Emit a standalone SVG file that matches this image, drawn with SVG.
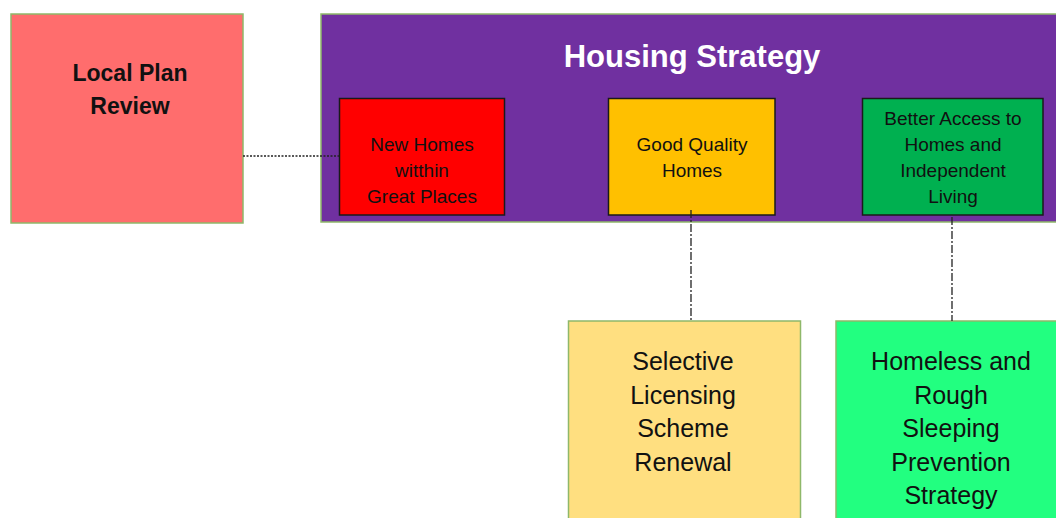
<svg xmlns="http://www.w3.org/2000/svg" width="1056" height="518" viewBox="0 0 1056 518">
<style>
text{font-family:"Liberation Sans",Arial,sans-serif;text-anchor:middle;fill:#111}
.outer{stroke:#8FB86A;stroke-width:1.5}
.inner{stroke:#1a1a1a;stroke-width:1.5}
.s{font-size:19px}
.l{font-size:25px}
.conn{fill:none;stroke:#222;stroke-width:1.3}
</style>
<rect width="1056" height="518" fill="#fff"/>
<g id="local-plan">
<rect class="outer" x="11" y="14" width="232" height="209" fill="#FF6D6D"/>
<text x="130" y="81" font-size="23" font-weight="bold">Local Plan</text>
<text x="130" y="114" font-size="23" font-weight="bold">Review</text>
</g>
<g id="housing-strategy">
<rect class="outer" x="321" y="14" width="740" height="208" fill="#7030A0"/>
<text x="692" y="67" font-size="31" font-weight="bold" style="fill:#fff">Housing Strategy</text>
</g>
<g id="new-homes">
<rect class="inner" x="339.5" y="98.5" width="165" height="116.5" fill="#FF0000"/>
<text class="s" x="422" y="151">New Homes</text>
<text class="s" x="422" y="177">witthin</text>
<text class="s" x="422" y="203">Great Places</text>
</g>
<g id="good-quality">
<rect class="inner" x="608.5" y="98.5" width="166.5" height="116.5" fill="#FFC000"/>
<text class="s" x="692" y="151">Good Quality</text>
<text class="s" x="692" y="177">Homes</text>
</g>
<g id="better-access">
<rect class="inner" x="862.5" y="98.5" width="180.5" height="116.5" fill="#00B050"/>
<text class="s" x="953" y="125">Better Access to</text>
<text class="s" x="953" y="151">Homes and</text>
<text class="s" x="953" y="177">Independent</text>
<text class="s" x="953" y="203">Living</text>
</g>
<g id="selective-licensing">
<rect class="outer" x="568.5" y="321" width="232" height="210" fill="#FFDF80"/>
<text class="l" x="683" y="370">Selective</text>
<text class="l" x="683" y="404">Licensing</text>
<text class="l" x="683" y="437">Scheme</text>
<text class="l" x="683" y="471">Renewal</text>
</g>
<g id="homeless">
<rect class="outer" x="836" y="321" width="240" height="210" fill="#22FF80"/>
<text class="l" x="951" y="370">Homeless and</text>
<text class="l" x="951" y="404">Rough</text>
<text class="l" x="951" y="437">Sleeping</text>
<text class="l" x="951" y="471">Prevention</text>
<text class="l" x="951" y="504">Strategy</text>
</g>
<g id="connectors">
<line class="conn" x1="243" y1="156" x2="339" y2="156" stroke-dasharray="2,1.5"/>
<line class="conn" x1="691" y1="210" x2="691" y2="321" stroke-dasharray="8,2,2,2"/>
<line class="conn" x1="952" y1="217" x2="952" y2="321" stroke-dasharray="8,2,2,2"/>
</g>
</svg>
